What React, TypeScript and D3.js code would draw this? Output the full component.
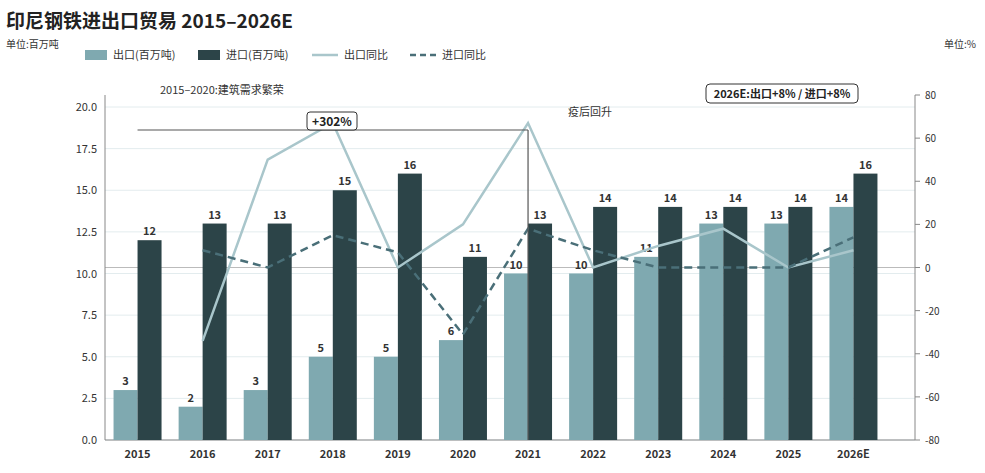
import React from "react";
import * as d3 from "d3";

const years = ["2015", "2016", "2017", "2018", "2019", "2020", "2021", "2022", "2023", "2024", "2025", "2026E"];
const exportVol = [3, 2, 3, 5, 5, 6, 10, 10, 11, 13, 13, 14];
const importVol = [12, 13, 13, 15, 16, 11, 13, 14, 14, 14, 14, 16];
const exportYoy: (number | null)[] = [null, -34, 50, 67, 0, 20, 67, 0, 10, 18, 0, 8];
const importYoy: (number | null)[] = [null, 8, 0, 15, 7, -31, 18, 8, 0, 0, 0, 14];
const leftTicks = [0, 2.5, 5, 7.5, 10, 12.5, 15, 17.5, 20];
const rightTicks = [-80, -60, -40, -20, 0, 20, 40, 60, 80];

const W = 985, H = 473;
const C = { exp: "#7fa9b0", imp: "#2c4448", expLine: "#a9c6cb", impLine: "#4a6f78", text: "#333" };
const font = "'Noto Sans CJK SC', 'Noto Sans', sans-serif";

export default function App() {
  const x = d3.scaleBand().domain(years).range([105, 886]).paddingInner(0.26).paddingOuter(0.13);
  const step = x.step();
  const y = d3.scaleLinear().domain([0, 20]).range([440, 107]);
  const yr = d3.scaleLinear().domain([-80, 80]).range([440, 95]);
  const bw = 24;
  const cx = (d: string) => (x(d) ?? 0) + x.bandwidth() / 2;

  const line = d3.line<[string, number | null]>()
    .defined(d => d[1] != null)
    .x(d => cx(d[0]))
    .y(d => yr(d[1] as number));
  const expPts = years.map((d, i) => [d, exportYoy[i]] as [string, number | null]);
  const impPts = years.map((d, i) => [d, importYoy[i]] as [string, number | null]);

  return (
    <svg width={W} height={H} style={{ position: "absolute", left: 0, top: 0, fontFamily: font, background: "#fff" }}>
      <text x={6} y={28} fontSize={19} fontWeight="bold" fill="#222">印尼钢铁进出口贸易 2015–2026E</text>
      <text x={6} y={48} fontSize={10} fill={C.text}>单位:百万吨</text>
      <text x={976} y={48} fontSize={10} fill={C.text} textAnchor="end">单位:%</text>

      {/* legend */}
      <g fontSize={11} fill={C.text}>
        <rect x={85} y={50} width={22} height={10} fill={C.exp} />
        <text x={113} y={59}>出口(百万吨)</text>
        <rect x={198} y={50} width={22} height={10} fill={C.imp} />
        <text x={226} y={59}>进口(百万吨)</text>
        <line x1={312} x2={338} y1={55} y2={55} stroke={C.expLine} strokeWidth={2.5} />
        <text x={344} y={59}>出口同比</text>
        <line x1={410} x2={436} y1={55} y2={55} stroke={C.impLine} strokeWidth={2.5} strokeDasharray="6,4" />
        <text x={442} y={59}>进口同比</text>
      </g>

      {/* grid */}
      {leftTicks.map(t => (
        <line key={t} x1={105} x2={915} y1={y(t)} y2={y(t)} stroke="#e3ecee" strokeWidth={1} />
      ))}
      <line x1={105} x2={915} y1={yr(0)} y2={yr(0)} stroke="#bbb" strokeWidth={1} />

      {/* axes */}
      <line x1={105} x2={105} y1={95} y2={440} stroke="#888" />
      <line x1={915} x2={915} y1={95} y2={440} stroke="#888" />
      <line x1={105} x2={915} y1={440} y2={440} stroke="#888" />
      {leftTicks.map(t => (
        <text key={t} x={97} y={y(t) + 4} fontSize={11} fill={C.text} textAnchor="end">{t.toFixed(1)}</text>
      ))}
      {rightTicks.map(t => (
        <g key={t}>
          <line x1={915} x2={920} y1={yr(t)} y2={yr(t)} stroke="#888" />
          <text x={925} y={yr(t) + 4} fontSize={10} fill={C.text}>{t}</text>
        </g>
      ))}
      {years.map(d => (
        <text key={d} x={cx(d)} y={458} fontSize={11} fontWeight="bold" fill={C.text} textAnchor="middle">{d}</text>
      ))}

      {/* bars */}
      {years.map((d, i) => (
        <g key={d}>
          <rect x={cx(d) - bw} y={y(exportVol[i])} width={bw} height={y(0) - y(exportVol[i])} fill={C.exp} />
          <rect x={cx(d)} y={y(importVol[i])} width={bw} height={y(0) - y(importVol[i])} fill={C.imp} />
          <text x={cx(d) - bw / 2} y={y(exportVol[i]) - 5} fontSize={11} fontWeight="bold" fill={C.text} textAnchor="middle">{exportVol[i]}</text>
          <text x={cx(d) + bw / 2} y={y(importVol[i]) - 5} fontSize={11} fontWeight="bold" fill={C.text} textAnchor="middle">{importVol[i]}</text>
        </g>
      ))}

      {/* lines */}
      <path d={line(expPts) ?? ""} fill="none" stroke={C.expLine} strokeWidth={2.5} />
      <path d={line(impPts) ?? ""} fill="none" stroke={C.impLine} strokeWidth={2.5} strokeDasharray="8,5" />

      {/* annotations */}
      <line x1={cx("2015")} x2={cx("2021")} y1={130} y2={130} stroke="#555" strokeWidth={1.2} />
      <line x1={cx("2021")} x2={cx("2021")} y1={130} y2={440} stroke="#555" strokeWidth={1.2} />
      <rect x={307} y={112} width={50} height={18} rx={3} fill="#fff" stroke="#333" />
      <text x={332} y={126} fontSize={12} fontWeight="bold" fill="#222" textAnchor="middle">+302%</text>
      <text x={160} y={94} fontSize={11} fill={C.text}>2015–2020:建筑需求繁荣</text>
      <text x={590} y={116} fontSize={11} fill={C.text} textAnchor="middle">疫后回升</text>
      <rect x={706} y={84} width={152} height={19} rx={4} fill="#fff" stroke="#333" />
      <text x={782} y={98} fontSize={11} fontWeight="bold" fill="#222" textAnchor="middle">2026E:出口+8% / 进口+8%</text>
    </svg>
  );
}
